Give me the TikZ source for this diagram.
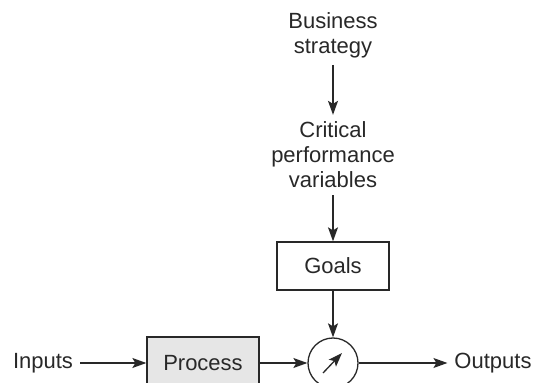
\documentclass[tikz,border=0pt]{standalone}
\usepackage{fontspec}
\setmainfont{Liberation Sans}
\usetikzlibrary{arrows.meta, positioning, calc}
\definecolor{procfill}{RGB}{230, 230, 230}
\definecolor{linegray}{RGB}{40, 40, 40}

\begin{document}
\begin{tikzpicture}[
            x=0.5pt, y=-0.5pt,
            label/.style={align=center, font=\fontsize{11}{12.5}\selectfont, text=linegray},
            block/.style={rectangle, draw=linegray, line width=0.65pt,
                          minimum width=56pt, minimum height=24pt,
                          align=center, font=\fontsize{11}{12.5}\selectfont, text=linegray},
            gauge/.style={circle, draw=linegray, line width=0.65pt, minimum size=25pt, inner sep=0pt},
            arrow/.style={-{Stealth[length=7pt, width=5pt, inset=1.5pt]}, line width=0.65pt, draw=linegray},
        ]
            \useasboundingbox (0,0) rectangle (534,383);
            \node[label] (strat) at (333,35) {Business\\strategy};
            \node[label] (cpv) at (333,155) {Critical\\performance\\variables};
            \node[block] (goals) at (333,266) {Goals};
            \node[gauge] (meter) at (333,363) {};
            \node[block, fill=procfill, minimum height=26pt] (proc) at (203,363) {Process};
            \node[label] (inp) at (43,363) {Inputs};
            \node[label] (outp) at (493,363) {Outputs};

            \draw[arrow] (strat) -- (cpv);
            \draw[arrow] (cpv) -- (goals);
            \draw[arrow] (goals) -- (meter);
            \draw[arrow] (inp) -- (proc);
            \draw[arrow] (proc) -- (meter);
            \draw[arrow] (meter) -- (outp);
            % needle of the meter
            \coordinate (needle) at ($(meter.center)+(-10,10)$);
            \draw[arrow] (needle) -- ($(meter.center)+(9,-10)$);
        \end{tikzpicture}
\end{document}
